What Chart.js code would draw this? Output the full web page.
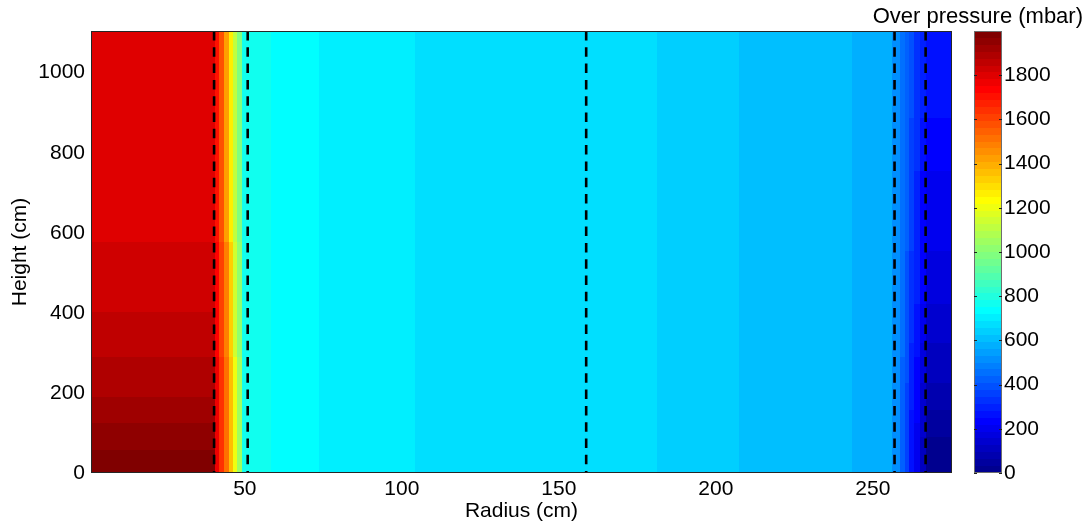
<!DOCTYPE html>
<html><head><meta charset="utf-8">
<script src="https://cdn.jsdelivr.net/npm/chart.js@4.4.1/dist/chart.umd.min.js"></script>
<style>html,body{margin:0;padding:0;background:#fff;overflow:hidden}canvas{display:block}</style>
</head><body>
<canvas id="c" width="1088" height="529"></canvas>
<script>
// ---- data (cm / mbar) ----
const radiusEdges = [1, 40.45, 41.88, 43.47, 44.84, 46.18, 47.55, 49.04, 58.28, 73.57, 104.14, 181.2, 207.3, 243.5, 256.1, 258.6, 260.2, 261.6, 263.2, 265, 266.8, 275.2];
const heightEdges = [0, 57, 90, 124, 157, 189, 224, 289, 324, 401, 423, 555, 578, 754, 886, 1104];
// one row per height band (bottom to top), one value per radius band
const pressure = [
  [1984, 1766,1656,1516,1360,1203,1047, 766,734,703,672,641,609,578, 516,422,359,266,203,109,16],
  [1953, 1766,1656,1516,1360,1203,1047, 766,734,703,672,641,609,578, 516,422,359,266,203,109,16],
  [1953, 1766,1656,1516,1360,1203,1047, 766,734,703,672,641,609,578, 516,422,359,266,203,141,47],
  [1922, 1766,1656,1516,1360,1203,1047, 766,734,703,672,641,609,578, 516,422,359,266,234,141,47],
  [1922, 1766,1656,1516,1360,1203,1047, 766,734,703,672,641,609,578, 516,422,359,297,234,141,78],
  [1891, 1766,1656,1516,1360,1203,1047, 766,734,703,672,641,609,578, 516,422,359,297,234,141,78],
  [1891, 1766,1656,1516,1360,1203,1047, 766,734,703,672,641,609,578, 516,422,391,297,234,172,109],
  [1859, 1734,1610,1470,1313,1156,1016, 766,734,703,672,641,609,578, 516,453,391,297,266,172,109],
  [1859, 1734,1610,1470,1313,1156,1016, 766,734,703,672,641,609,578, 516,453,391,328,266,203,141],
  [1828, 1734,1610,1470,1313,1156,1016, 766,734,703,672,641,609,578, 516,453,391,328,266,203,141],
  [1828, 1734,1610,1470,1313,1156,1016, 766,734,703,672,641,609,578, 516,453,391,328,297,234,172],
  [1828, 1734,1610,1470,1313,1156,1016, 766,734,703,672,641,609,578, 516,453,422,359,297,234,203],
  [1797, 1703,1578,1422,1266,1109,984,  766,734,703,672,641,609,578, 516,453,422,359,297,234,203],
  [1797, 1703,1578,1422,1266,1109,984,  766,734,703,672,641,609,578, 516,453,422,359,328,266,234],
  [1797, 1703,1578,1422,1266,1109,984,  766,734,703,672,641,609,578, 516,453,422,391,328,297,266]
];
const dashedRadii = [40.2, 50.9, 158.7, 256.9, 266.8];
const radiusTicks = [50, 100, 150, 200, 250];
const heightTicks = [0, 200, 400, 600, 800, 1000];
const pressureTicks = [0, 200, 400, 600, 800, 1000, 1200, 1400, 1600, 1800];
const radiusRange = [1, 275.2];
const heightRange = [0, 1104];
const pressureRange = [0, 2000];
const nLevels = 64;

// ---- colormap (jet, 64 levels) ----
function jetLevel(i) {
  const u = j => j < 1 ? 0 : j <= 16 ? j / 16 : j <= 31 ? 1 : j <= 47 ? (48 - j) / 16 : 0;
  const r = Math.round(255 * u(i - 23)), g = Math.round(255 * u(i - 7)), b = Math.round(255 * u(i + 9));
  return `rgb(${r},${g},${b})`;
}
function colorFor(v) {
  let i = Math.floor((v - pressureRange[0]) / (pressureRange[1] - pressureRange[0]) * nLevels);
  i = Math.max(0, Math.min(nLevels - 1, i));
  return jetLevel(i);
}

const FONT = "'Liberation Sans', Arial, Helvetica, sans-serif";
const font = { family: FONT, size: 21 };

const heatmap = {
  id: 'heatmap',
  beforeDatasetsDraw(chart) {
    const { ctx, scales: { x, y } } = chart;
    ctx.save();
    for (let r = 0; r < pressure.length; r++) {
      const yTop = Math.round(y.getPixelForValue(heightEdges[r + 1]));
      const yBot = Math.round(y.getPixelForValue(heightEdges[r]));
      for (let c = 0; c < pressure[r].length; c++) {
        const x0 = Math.round(x.getPixelForValue(radiusEdges[c]));
        const x1 = Math.round(x.getPixelForValue(radiusEdges[c + 1]));
        ctx.fillStyle = colorFor(pressure[r][c]);
        ctx.fillRect(x0, yTop, x1 - x0, yBot - yTop);
      }
    }
    ctx.restore();
  },
  afterDatasetsDraw(chart) {
    const { ctx, chartArea: a } = chart;
    ctx.save();
    ctx.strokeStyle = '#262626';
    ctx.lineWidth = 1;
    ctx.strokeRect(Math.round(a.left) + 0.5, Math.round(a.top) + 0.5, Math.round(a.right - a.left) - 1, Math.round(a.bottom - a.top) - 1);
    ctx.restore();
  },
  afterDraw(chart) {
    const { ctx } = chart;
    const cb = chart.scales.cb;
    const left = Math.round(cb.left) + 22, w = 28;
    ctx.save();
    const step = (pressureRange[1] - pressureRange[0]) / nLevels;
    for (let i = 0; i < nLevels; i++) {
      const yT = Math.round(cb.getPixelForValue(pressureRange[0] + (i + 1) * step));
      const yB = Math.round(cb.getPixelForValue(pressureRange[0] + i * step));
      ctx.fillStyle = jetLevel(i);
      ctx.fillRect(left, yT, w, yB - yT);
    }
    const top = Math.round(cb.getPixelForValue(pressureRange[1]));
    const bot = Math.round(cb.getPixelForValue(pressureRange[0]));
    ctx.strokeStyle = '#6e6e6e';
    ctx.lineWidth = 1;
    ctx.strokeRect(left + 0.5, top + 0.5, w - 1, bot - top - 1);
    ctx.strokeStyle = '#222';
    pressureTicks.forEach(v => {
      const py = Math.round(cb.getPixelForValue(v)) + 0.5;
      ctx.beginPath();
      ctx.moveTo(left, py); ctx.lineTo(left + 3, py);
      ctx.moveTo(left + w - 3, py); ctx.lineTo(left + w, py);
      ctx.stroke();
    });
    ctx.fillStyle = '#000';
    ctx.font = `22px ${FONT}`;
    ctx.textAlign = 'right';
    ctx.textBaseline = 'alphabetic';
    ctx.fillText('Over pressure (mbar)', chart.width - 5, 23);
    ctx.restore();
  }
};

new Chart(document.getElementById('c'), {
  type: 'scatter',
  data: {
    datasets: dashedRadii.map(r => ({
      type: 'line',
      data: [{ x: r, y: heightRange[1] }, { x: r, y: heightRange[0] }],
      borderColor: '#000', borderWidth: 2.6, borderDash: [9.5, 6.8],
      pointRadius: 0, showLine: true, fill: false, tension: 0
    }))
  },
  options: {
    responsive: false, animation: false, devicePixelRatio: 1,
    layout: { padding: { top: 31, left: 0, right: 0, bottom: 0 } },
    plugins: { legend: { display: false }, tooltip: { enabled: false } },
    scales: {
      x: {
        type: 'linear', position: 'bottom', min: radiusRange[0], max: radiusRange[1],
        afterBuildTicks: s => { s.ticks = radiusTicks.map(v => ({ value: v })); },
        afterFit: s => { s.height = 56; s.paddingLeft = 0; s.paddingRight = 0; },
        grid: { display: false, drawTicks: false }, border: { display: false },
        ticks: { color: '#000', font, padding: 4, maxRotation: 0, autoSkip: false, callback: v => String(v) },
        title: { display: true, text: 'Radius (cm)', color: '#000', font, padding: { top: 0, bottom: 5 } }
      },
      y: {
        type: 'linear', position: 'left', min: heightRange[0], max: heightRange[1],
        afterBuildTicks: s => { s.ticks = heightTicks.map(v => ({ value: v })); },
        afterFit: s => { s.width = 91; s.paddingTop = 0; s.paddingBottom = 0; },
        grid: { display: false, drawTicks: false }, border: { display: false },
        ticks: { color: '#000', font, padding: 6, autoSkip: false, callback: v => String(v) },
        title: { display: true, text: 'Height (cm)', color: '#000', font, padding: { top: 8, bottom: 0 } }
      },
      cb: {
        type: 'linear', axis: 'y', position: 'right', min: pressureRange[0], max: pressureRange[1],
        afterBuildTicks: s => { s.ticks = pressureTicks.map(v => ({ value: v })); },
        afterFit: s => { s.width = 136; s.paddingTop = 0; s.paddingBottom = 0; },
        grid: { display: false, drawTicks: false }, border: { display: false },
        ticks: { color: '#000', font, padding: 52, autoSkip: false, callback: v => String(v) }
      }
    }
  },
  plugins: [heatmap]
});
</script>
</body></html>
